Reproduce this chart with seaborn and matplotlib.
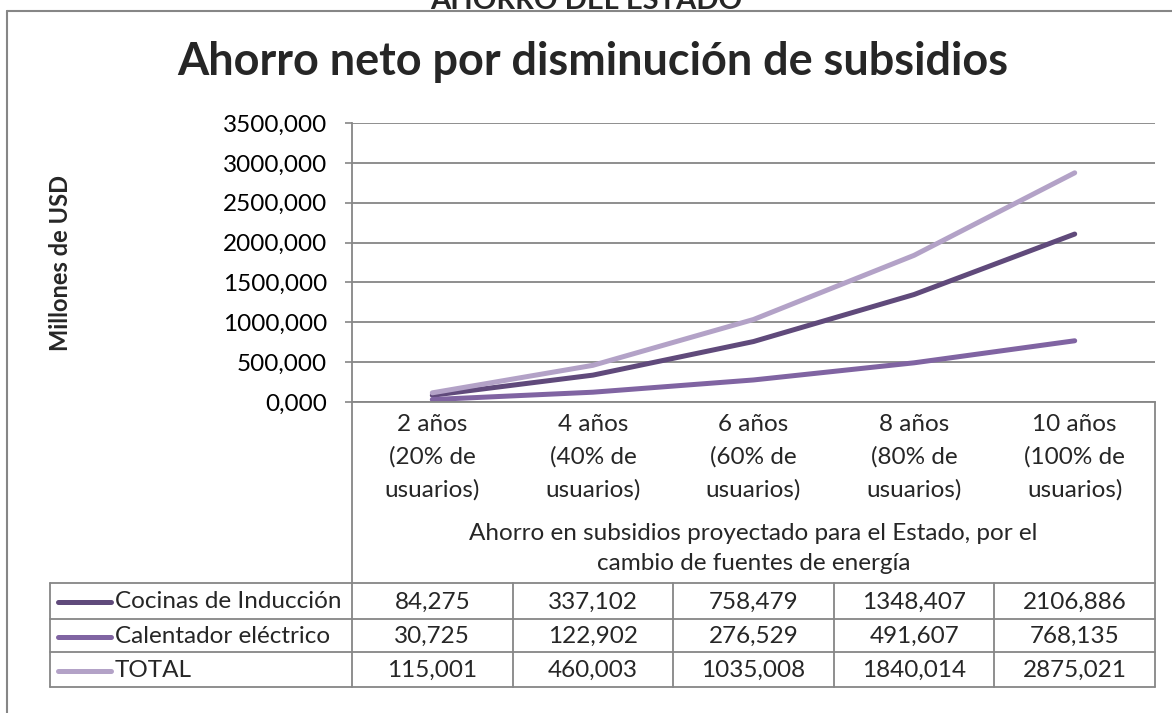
import matplotlib
matplotlib.use("Agg")
import matplotlib.pyplot as plt
import matplotlib.transforms as mtransforms
from matplotlib.ticker import FuncFormatter
import seaborn as sns
import pandas as pd

# datos del grafico
categorias = ["2 años\n(20% de\nusuarios)", "4 años\n(40% de\nusuarios)", "6 años\n(60% de\nusuarios)",
              "8 años\n(80% de\nusuarios)", "10 años\n(100% de\nusuarios)"]
series = ["Cocinas de Inducción", "Calentador eléctrico", "TOTAL"]
cocinas = [84.275, 337.102, 758.479, 1348.407, 2106.886]
calentador = [30.725, 122.902, 276.529, 491.607, 768.135]
total = [115.001, 460.003, 1035.008, 1840.014, 2875.021]
colores = ["#604A7B", "#8064A2", "#B3A2C7"]

valores = [cocinas, calentador, total]

# tabla larga para seaborn
filas = []
for nombre, vals in zip(series, valores):
    for i, v in enumerate(vals):
        filas.append({"pos": i, "valor": v, "serie": nombre})
df = pd.DataFrame(filas)

sns.set_style("white")
plt.rcParams["font.family"] = ["Lato", "DejaVu Sans"]

GRIS = "#868686"
W, H = 1172, 713
FS = 17.5

def fmt(v):
    return f"{v:.3f}".replace(".", ",")

fig = plt.figure(figsize=(11.72, 7.13), dpi=100)

# capa de pixeles para bordes, titulos y tabla
ov = fig.add_axes([0, 0, 1, 1])
ov.set_xlim(0, W)
ov.set_ylim(H, 0)
ov.axis("off")

# area del grafico
left, right, top, bottom = 352, 1155, 123, 402
ax = fig.add_axes([left / W, 1 - bottom / H, (right - left) / W, (bottom - top) / H])

sns.lineplot(data=df, x="pos", y="valor", hue="serie", hue_order=series,
             palette=colores, linewidth=3.6, legend=False, ax=ax,
             solid_capstyle="round")

ax.set_xlim(-0.5, 4.5)
ax.set_ylim(0, 3500)
ax.set_yticks(range(0, 3501, 500))
ax.yaxis.set_major_formatter(FuncFormatter(lambda v, p: fmt(v)))
ax.yaxis.grid(True, color=GRIS, linewidth=1.3)
ax.set_axisbelow(True)
for s in ["top", "right"]:
    ax.spines[s].set_visible(False)
for s in ["left", "bottom"]:
    ax.spines[s].set_color(GRIS)
    ax.spines[s].set_linewidth(1.3)
ax.tick_params(axis="y", direction="out", length=5, width=1.2, color=GRIS,
               labelsize=FS, pad=13, labelcolor="black", left=True)

# categorias como etiquetas del eje x
ax.set_xticks(range(5))
ax.set_xticklabels(categorias, fontsize=FS)
for t in ax.get_xticklabels():
    t.set_linespacing(1.64)
ax.tick_params(axis="x", length=0, pad=8.5)
ax.set_xticks([0.5, 1.5, 2.5, 3.5], minor=True)
ax.tick_params(axis="x", which="minor", direction="out", length=76, width=1.2, color=GRIS)
ax.set_xlabel("Ahorro en subsidios proyectado para el Estado, por el\ncambio de fuentes de energía",
              fontsize=FS, linespacing=1.58)
lab_tr = mtransforms.blended_transform_factory(ax.transAxes, ov.transData)
ax.xaxis.set_label_coords(0.5, 548.5, transform=lab_tr)
ax.xaxis.label.set_va("center")
ax.set_ylabel("")

# titulos
ov.text(586, 9, "AHORRO DEL ESTADO", fontsize=21, fontweight="bold", ha="center", va="baseline")
ov.plot([7, 7], [11, H], color=GRIS, lw=1.5)
ov.plot([7, W], [11, 11], color=GRIS, lw=1.5)
ov.text(593, 75, "Ahorro neto por disminución de subsidios", fontsize=32.4, fontweight="bold",
        ha="center", va="baseline")
ov.text(61, 263, "Millones de USD", fontsize=17, fontweight="bold", rotation=90,
        ha="center", va="center")

# tabla de datos
tr = mtransforms.blended_transform_factory(ax.transData, ov.transData)
tab_left = 50
filas_y = [583, 619, 652, 687]
ov.plot([left, left], [bottom, filas_y[-1]], color=GRIS, lw=1.3)
ov.plot([right, right], [bottom, filas_y[-1]], color=GRIS, lw=1.3)
for y in filas_y:
    ov.plot([tab_left, right], [y, y], color=GRIS, lw=1.3)
ov.plot([tab_left, tab_left], [filas_y[0], filas_y[-1]], color=GRIS, lw=1.3)
for b in [0.5, 1.5, 2.5, 3.5]:
    ov.plot([b, b], [filas_y[0], filas_y[-1]], color=GRIS, lw=1.3, transform=tr)

for k, (nombre, vals, c) in enumerate(zip(series, valores, colores)):
    yc = (filas_y[k] + filas_y[k + 1]) / 2 + 1
    ov.plot([58, 111], [yc, yc], color=c, lw=3.6, solid_capstyle="round")
    ov.text(115, yc, nombre, fontsize=FS, ha="left", va="center")
    for i, v in enumerate(vals):
        ov.text(i, yc, fmt(v), fontsize=FS, ha="center", va="center", transform=tr)

fig.savefig("out.png", dpi=100)
